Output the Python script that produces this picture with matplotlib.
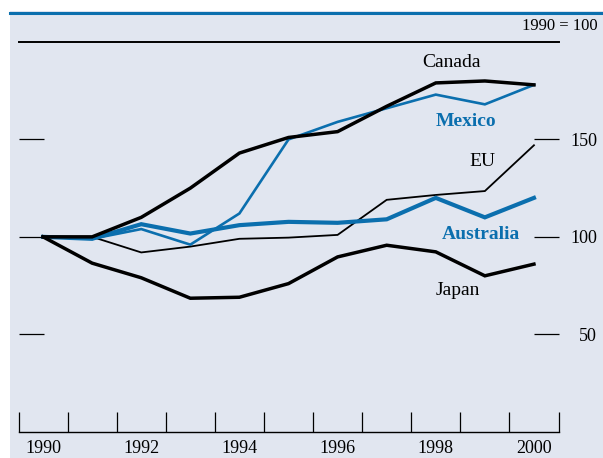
import matplotlib
matplotlib.use('Agg')
import matplotlib.pyplot as plt
from matplotlib.patches import Rectangle
from matplotlib.lines import Line2D

plt.rcParams['font.family'] = ['Liberation Serif', 'DejaVu Serif']

years = [1990, 1991, 1992, 1993, 1994, 1995, 1996, 1997, 1998, 1999, 2000]
canada = [100, 100, 110, 125, 143, 151, 154, 167, 179, 180, 178]
mexico = [100, 99, 104, 96, 112, 150, 159, 166, 173, 168, 178]
australia = [100, 99, 106.5, 101.7, 106, 107.7, 107.2, 109, 120, 110, 120]
eu = [100, 100, 92, 95, 99, 99.6, 101, 119, 121.5, 123.5, 147]
japan = [100, 86.5, 79, 68.5, 69, 76, 89.7, 95.7, 92.3, 80, 86]
year_labels = [1990, 1992, 1994, 1996, 1998, 2000]
y_ticks = [50, 100, 150]

W, H = 603, 458
BLUE = '#0b6fae'
BG = '#e1e6f0'

fig = plt.figure(figsize=(W / 100, H / 100), dpi=100)
fig.patch.set_facecolor('white')
fig.patches.append(Rectangle((10 / W, 0), 1 - 10 / W, (H - 11) / H,
                             transform=fig.transFigure, facecolor=BG,
                             edgecolor='none', zorder=-10))
fig.lines.append(Line2D([10 / W, 1], [1 - 12.5 / H] * 2, transform=fig.transFigure,
                        color=BLUE, lw=2.2, zorder=-9))

ax = fig.add_axes([18.5 / W, (H - 431.7) / H, 540 / W, (431.7 - 42) / H])
ax.set_zorder(5)
ax.set_facecolor('none')
ax.set_xlim(1989.5, 2000.5)
ax.set_ylim(0, 200)

for s in ['left', 'right']:
    ax.spines[s].set_visible(False)
ax.spines['top'].set_linewidth(1.4)
ax.spines['bottom'].set_linewidth(1.0)

ax.plot(years, eu, color='black', lw=1.3, solid_joinstyle='miter')
ax.plot(years, mexico, color=BLUE, lw=1.9, solid_joinstyle='miter')
ax.plot(years, australia, color=BLUE, lw=3.0, solid_joinstyle='miter')
ax.plot(years, japan, color='black', lw=2.5, solid_joinstyle='miter')
ax.plot(years, canada, color='black', lw=2.5, solid_joinstyle='miter')

# x axis: ticks at year boundaries, labels centered in year
ax.set_xticks([y - 0.5 for y in years] + [years[-1] + 0.5])
ax.set_xticks(year_labels, minor=True)
ax.set_xticklabels([str(y) for y in year_labels], minor=True)
ax.tick_params(axis='x', which='major', direction='in', length=14.4, width=0.9,
               labelbottom=False, top=False)
ax.tick_params(axis='x', which='minor', length=0, pad=6, labelsize=13)

ax.set_yticks(y_ticks)
ax.set_yticklabels([str(v) for v in y_ticks])
ax.tick_params(axis='y', direction='in', length=18, width=0.9, left=True, right=True,
               labelleft=False, labelright=True, pad=27.7, labelsize=13)
for t in ax.yaxis.get_major_ticks():
    t.label2.set_horizontalalignment('right')

txt = dict(fontsize=14, ha='center', va='center')
ax.text(1998.33, 189.6, 'Canada', color='black', **txt)
ax.text(1998.61, 159.3, 'Mexico', color=BLUE, fontweight='bold', **txt)
ax.text(1998.95, 138.5, 'EU', color='black', **txt)
ax.text(1998.91, 101.4, 'Australia', color=BLUE, fontweight='bold', **txt)
ax.text(1998.44, 72.7, 'Japan', color='black', **txt)

fig.text(598 / W, 1 - 26 / H, '1990 = 100', ha='right', va='center', fontsize=12)

fig.savefig('out.png', dpi=100)
